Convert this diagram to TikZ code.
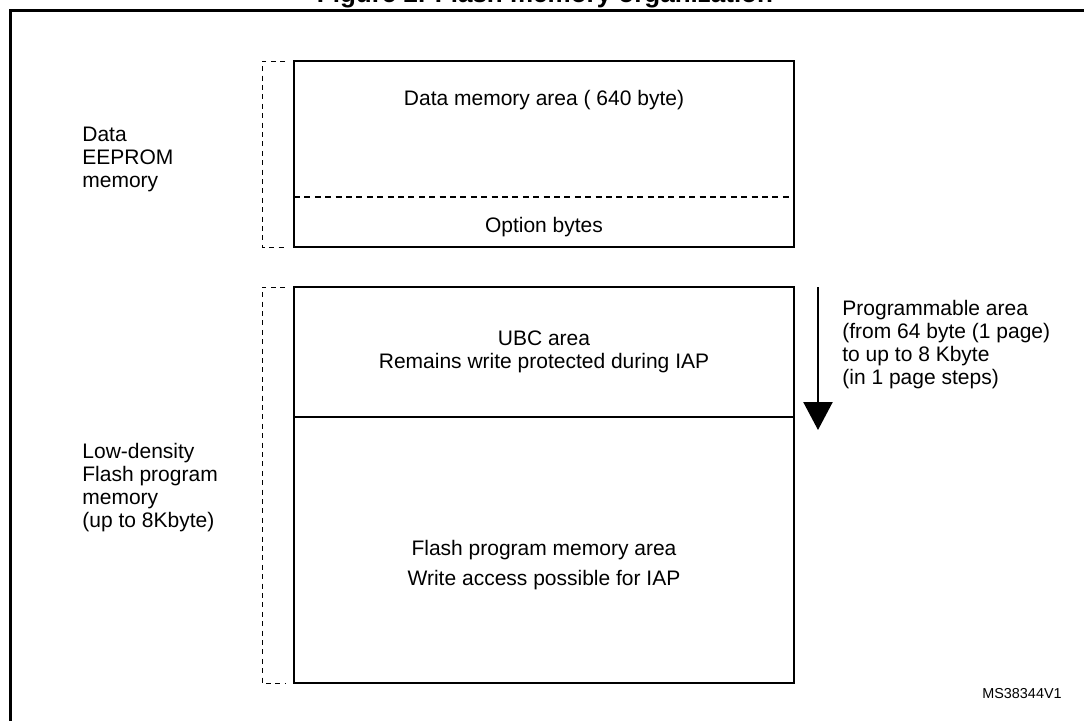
\documentclass[tikz,border=0pt]{standalone}
\usepackage{fontspec}
\setmainfont{Liberation Sans}
\usetikzlibrary{arrows.meta}
\tikzset{
  memtext/.style={font=\fontsize{10.5}{11.5}\selectfont, inner sep=0pt},
  sidetext/.style={memtext, align=left, anchor=north west},
  bracket/.style={line width=0.5pt, dash pattern=on 2.5pt off 2.2pt},
  membox/.style={line width=0.6pt},
}
\begin{document}
\begin{tikzpicture}[x=0.5pt,y=-0.5pt]
	\useasboundingbox (0,0) rectangle (1084,720);
	\coordinate (FA) at (10.5,760);
	\coordinate (FB) at (1110,10.5);
	\coordinate (DA) at (294,61);
	\coordinate (DB) at (794,247);
	\coordinate (PA) at (294,287);
	\coordinate (PB) at (794,683);
	
	% title and outer frame
	\node [font=\bfseries\fontsize{13}{15}\selectfont, anchor=base] (title) at (545,2) {Figure 2. Flash memory organization};
	\draw [line width=1.5pt] (FA) |- (FB);
	
	% data EEPROM block
	\draw [membox] (DA) rectangle (DB);
	\coordinate (OL) at (294,197);
	\coordinate (OR) at (794,197);
	\draw [membox, dash pattern=on 3pt off 2.2pt] (OL) -- (OR);
	
	% flash program block
	\draw [membox] (PA) rectangle (PB);
	\coordinate (UL) at (294,417);
	\coordinate (UR) at (794,417);
	\draw [membox] (UL) -- (UR);
	
	% dashed brackets on the left
	\coordinate (B1a) at (285,61);
	\coordinate (B1b) at (262,247);
	\coordinate (B1c) at (285,247);
	\draw [bracket] (B1a) -| (B1b) -- (B1c);
	\coordinate (B2a) at (285,287);
	\coordinate (B2b) at (262,683);
	\coordinate (B2c) at (285,683);
	\draw [bracket] (B2a) -| (B2b) -- (B2c);
	
	% texts inside the blocks
	\node [memtext] (datamem) at (544,100) {Data memory area ( 640 byte)};
	\node [memtext] (optbytes) at (544,227) {Option bytes};
	\node [memtext, align=center] (ubc) at (544,352) {UBC area\\Remains write protected during IAP};
	\node [memtext] (flashmem) at (544,550) {Flash program memory area};
	\node [memtext] (writeacc) at (544,580) {Write access possible for IAP};
	
	% side labels
	\node [sidetext] (eeprom) at (82,127) {Data\\EEPROM\\memory};
	\node [sidetext] (lowden) at (82,443) {Low-density\\Flash program\\memory\\(up to 8Kbyte)};
	\node [sidetext] (progarea) at (842,300) {Programmable area\\(from 64 byte (1 page)\\to up to 8 Kbyte\\(in 1 page steps)};
	
	% programmable area arrow
	\coordinate (arrowtop) at (818,287);
	\coordinate (arrowtip) at (818,430);
	\draw [line width=1.2pt, -{Triangle[width=14.5pt,length=14pt]}] (arrowtop) -- (arrowtip);
	
	\node [font=\fontsize{7.2}{9}\selectfont, inner sep=0pt] (msref) at (1022,694) {MS38344V1};
	
\end{tikzpicture}
\end{document}
